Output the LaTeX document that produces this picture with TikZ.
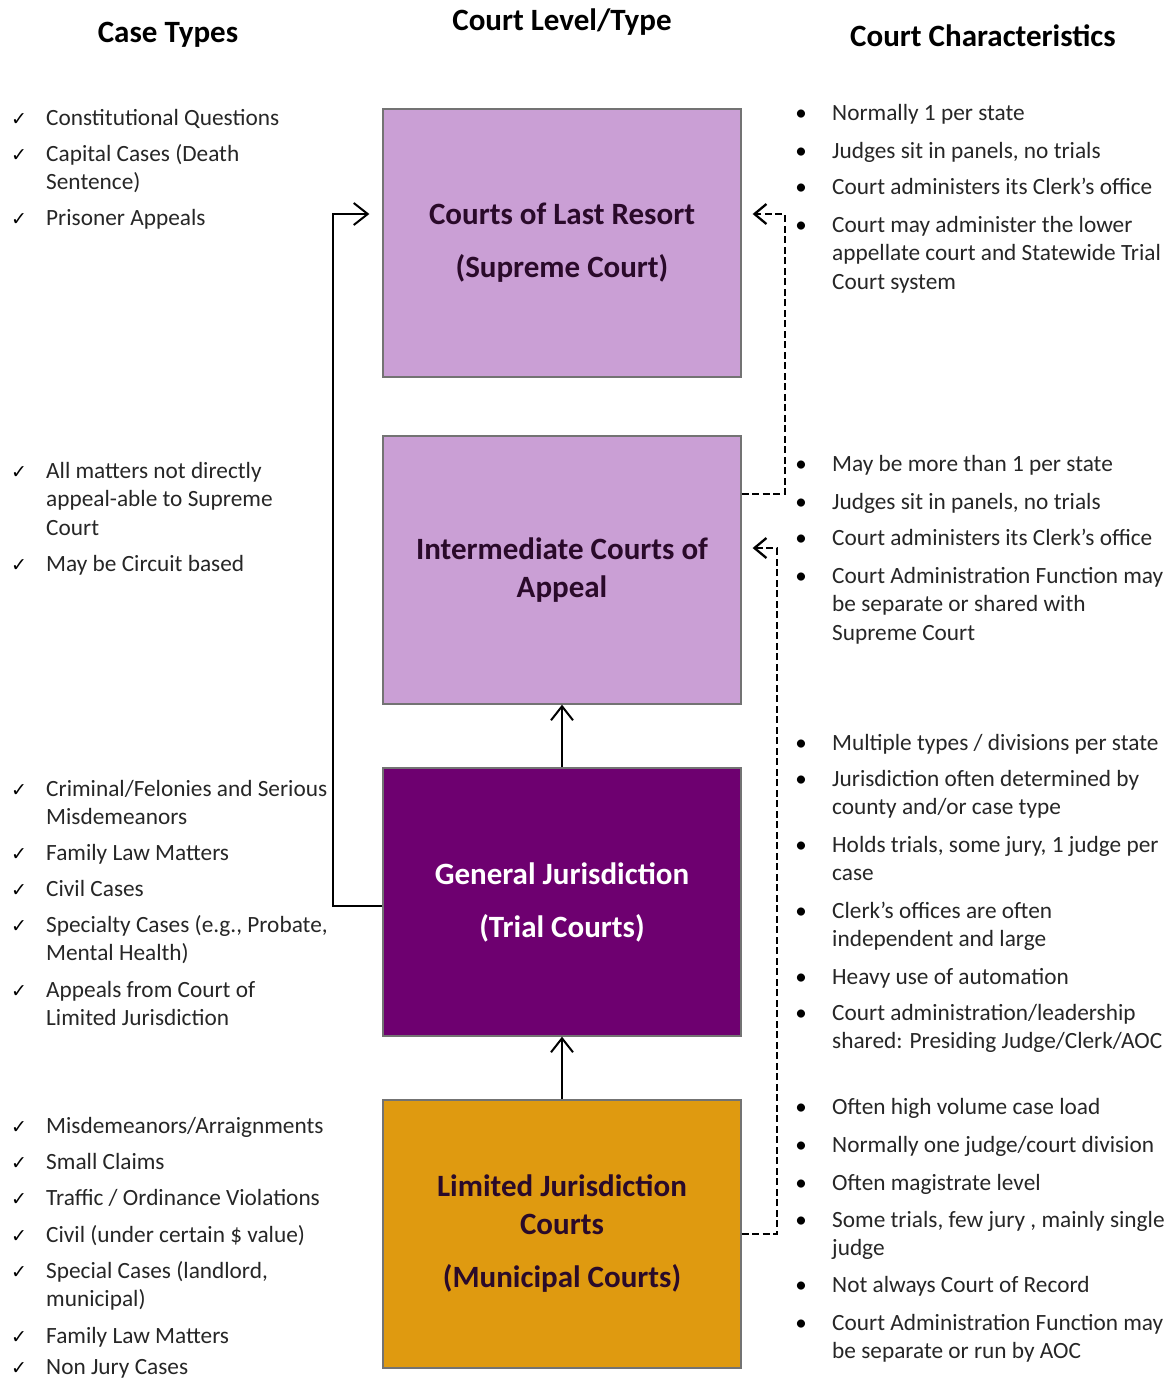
\documentclass[tikz,border=0pt]{standalone}
\usepackage{fontspec}
\setmainfont{Carlito}
\newfontfamily\symfont{DejaVu Sans}
\usetikzlibrary{arrows.meta}
\definecolor{lastresort}{HTML}{CA9FD5}
\definecolor{trialcourt}{HTML}{6E0070}
\definecolor{municipal}{HTML}{DF9A10}
\definecolor{boxtext}{HTML}{2A0A2A}

\begin{document}
\begin{tikzpicture}[x=1pt,y=-1pt,
  court/.style={draw=black!55, line width=1.3pt, minimum width=358pt, minimum height=268pt,
    align=center, text=boxtext, font=\fontsize{31}{38}\selectfont\bfseries},
  head/.style={inner sep=0pt, font=\fontsize{31}{34}\selectfont\bfseries},
  item/.style={anchor=base west, inner sep=0pt, text=black!85,
    font=\fontsize{23.3}{28.5}\selectfont},
  tick/.style={anchor=base, inner sep=0pt, font=\symfont\fontsize{19}{19}\selectfont},
  dot/.style={anchor=base, inner sep=0pt, font=\fontsize{23}{23}\selectfont},
  uparrow/.style={-{Straight Barb[length=14pt,width=22pt]}, line width=2pt},
  admin/.style={-{Straight Barb[length=12pt,width=20pt]}, line width=2.3pt,
    dash pattern=on 7pt off 3.5pt}
]
\useasboundingbox (0,0) rectangle (1173,1379);

% column titles
\node[head] (casetypes) at (168,35) {Case Types};
\node[head] (leveltype) at (562,22) {Court Level/Type};
\node[head] (traits) at (983,36) {Court Characteristics};

% court levels
\node[court, fill=lastresort] (supreme) at (562,243) {Courts of Last Resort\\[15pt](Supreme Court)};
\node[court, fill=lastresort] (appeal) at (562,570) {Intermediate Courts of\\Appeal};
\node[court, fill=trialcourt, text=white] (general) at (562,902) {General Jurisdiction\\[15pt](Trial Courts)};
\node[court, fill=municipal] (limited) at (562,1234) {Limited Jurisdiction\\Courts\\[15pt](Municipal Courts)};

% case types
\foreach \txt/\y [count=\i] in {
  {Constitutional Questions}/125, {Capital Cases (Death\\Sentence)}/161, {Prisoner Appeals}/225,
  {All matters not directly\\appeal-able to Supreme\\Court}/478, {May be Circuit based}/571,
  {Criminal/Felonies and Serious\\Misdemeanors}/796, {Family Law Matters}/860, {Civil Cases}/896,
  {Specialty Cases (e.g., Probate,\\Mental Health)}/932, {Appeals from Court of\\Limited Jurisdiction}/997,
  {Misdemeanors/Arraignments}/1133, {Small Claims}/1169, {Traffic / Ordinance Violations}/1205,
  {Civil (under certain \$ value)}/1242, {Special Cases (landlord,\\municipal)}/1278,
  {Family Law Matters}/1343, {Non Jury Cases}/1374}
{
  \node[tick] (tick\i) at (19,\y) {✓};
  \node[item] (case\i) at (46,\y) {\begin{tabular}[t]{@{}l@{}}\txt\end{tabular}};
}

% court characteristics
\foreach \txt/\y [count=\i] in {
  {Normally 1 per state}/120, {Judges sit in panels, no trials}/158, {Court administers its Clerk’s office}/194,
  {Court may administer the lower\\appellate court and Statewide Trial\\Court system}/232,
  {May be more than 1 per state}/471, {Judges sit in panels, no trials}/509, {Court administers its Clerk’s office}/545,
  {Court Administration Function may\\be separate or shared with\\Supreme Court}/583,
  {Multiple types / divisions per state}/750, {Jurisdiction often determined by\\county and/or case type}/786,
  {Holds trials, some jury, 1 judge per\\case}/852, {Clerk’s offices are often\\independent and large}/918,
  {Heavy use of automation}/984, {Court administration/leadership\\shared: Presiding Judge/Clerk/AOC}/1020,
  {Often high volume case load}/1114, {Normally one judge/court division}/1152, {Often magistrate level}/1190,
  {Some trials, few jury , mainly single\\judge}/1227, {Not always Court of Record}/1292,
  {Court Administration Function may\\be separate or run by AOC}/1330}
{
  \node[dot] (dot\i) at (801,\y) {•};
  \node[item] (trait\i) at (832,\y) {\begin{tabular}[t]{@{}l@{}}\txt\end{tabular}};
}

% appeals path
\draw[uparrow] (limited.north) -- (general.south);
\draw[uparrow] (general.north) -- (appeal.south);
\draw[uparrow] ([yshift=-4pt]general.west) -- ++(-49,0) |- ([shift={(-13,-29)}]supreme.west);

% administration links
\draw[admin] ([yshift=76pt]appeal.east) -- ++(43,0) |- ([shift={(11,-29)}]supreme.east);
\draw[admin] (limited.east) -- ++(35,0) |- ([shift={(11,-22)}]appeal.east);
\end{tikzpicture}
\end{document}
